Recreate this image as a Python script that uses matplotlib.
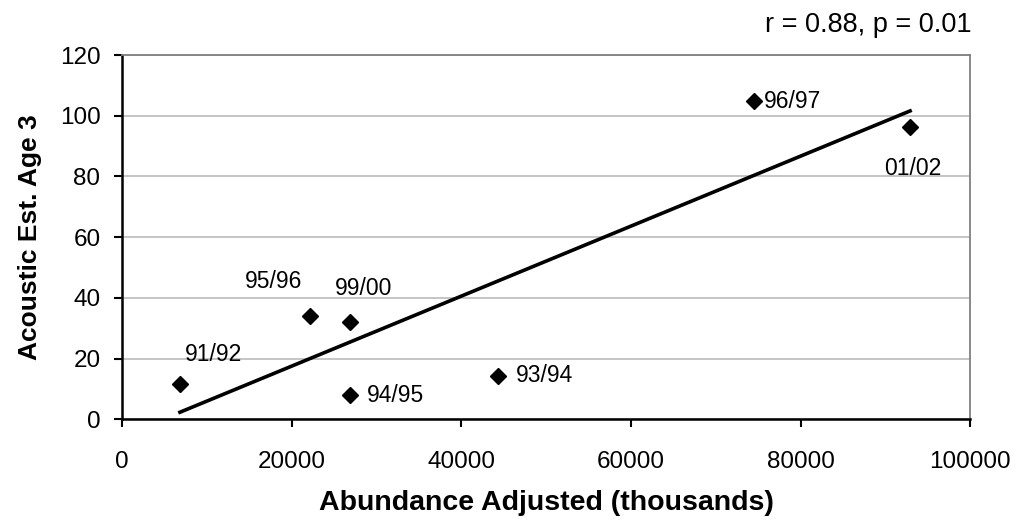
import matplotlib.pyplot as plt
import numpy as np

plt.rcParams['font.family'] = ['Liberation Sans', 'DejaVu Sans']

# data
seasons = ['91/92', '95/96', '99/00', '94/95', '93/94', '96/97', '01/02']
abundance = [6840, 22170, 26890, 26890, 44380, 74570, 92920]
acoustic = [11.7, 34.1, 32.0, 7.9, 14.3, 104.7, 96.2]

# label offsets in pixels (dx, dy, ha)
offsets = {
    '91/92': (5, 29, 'left'),
    '95/96': (-8, 34, 'right'),
    '99/00': (-15, 34, 'left'),
    '94/95': (17, 0, 'left'),
    '93/94': (17, 0, 'left'),
    '96/97': (9, 0, 'left'),
    '01/02': (3, -41, 'center'),
}

fig = plt.figure(figsize=(10.18, 5.26), dpi=100)
ax = fig.add_axes([0.1198, 0.2028, 0.8332, 0.6926])

ax.set_xlim(0, 100000)
ax.set_ylim(0, 120)
ax.set_xticks(np.arange(0, 100001, 20000))
ax.set_yticks(np.arange(0, 121, 20))

ax.grid(axis='y', color='#c0c0c0', linewidth=1.3)
ax.set_axisbelow(True)

# linear trend line over the data range
slope, icept = np.polyfit(abundance, acoustic, 1)
xs = np.array([min(abundance), max(abundance)])
ax.plot(xs, slope * xs + icept, color='black', linewidth=2.6, zorder=3)

ax.plot(abundance, acoustic, linestyle='none', marker='D', markersize=8,
        color='black', zorder=4)

for s, x, y in zip(seasons, abundance, acoustic):
    dx, dy, ha = offsets[s]
    ax.annotate(s, (x, y), xytext=(dx, dy), textcoords='offset pixels',
                ha=ha, va='center', fontsize=16.5)

for side in ['top', 'right']:
    ax.spines[side].set_color('#808080')
    ax.spines[side].set_linewidth(1.3)
for side in ['left', 'bottom']:
    ax.spines[side].set_color('black')
    ax.spines[side].set_linewidth(1.8)

ax.tick_params(direction='out', length=6, width=1.5, labelsize=17.5)
ax.tick_params(axis='x', pad=17)
ax.tick_params(axis='y', pad=9.5)

ax.set_xlabel('Abundance Adjusted (thousands)', fontsize=20.5, fontweight='bold')
ax.set_ylabel('Acoustic Est. Age 3', fontsize=19, fontweight='bold')
ax.xaxis.set_label_coords(0.5, -0.195)
ax.yaxis.set_label_coords(-0.094, 0.5)

fig.text(0.9545, 0.952, 'r = 0.88, p = 0.01', ha='right', va='center',
         fontsize=19.5)

fig.savefig('out.png', dpi=100)
